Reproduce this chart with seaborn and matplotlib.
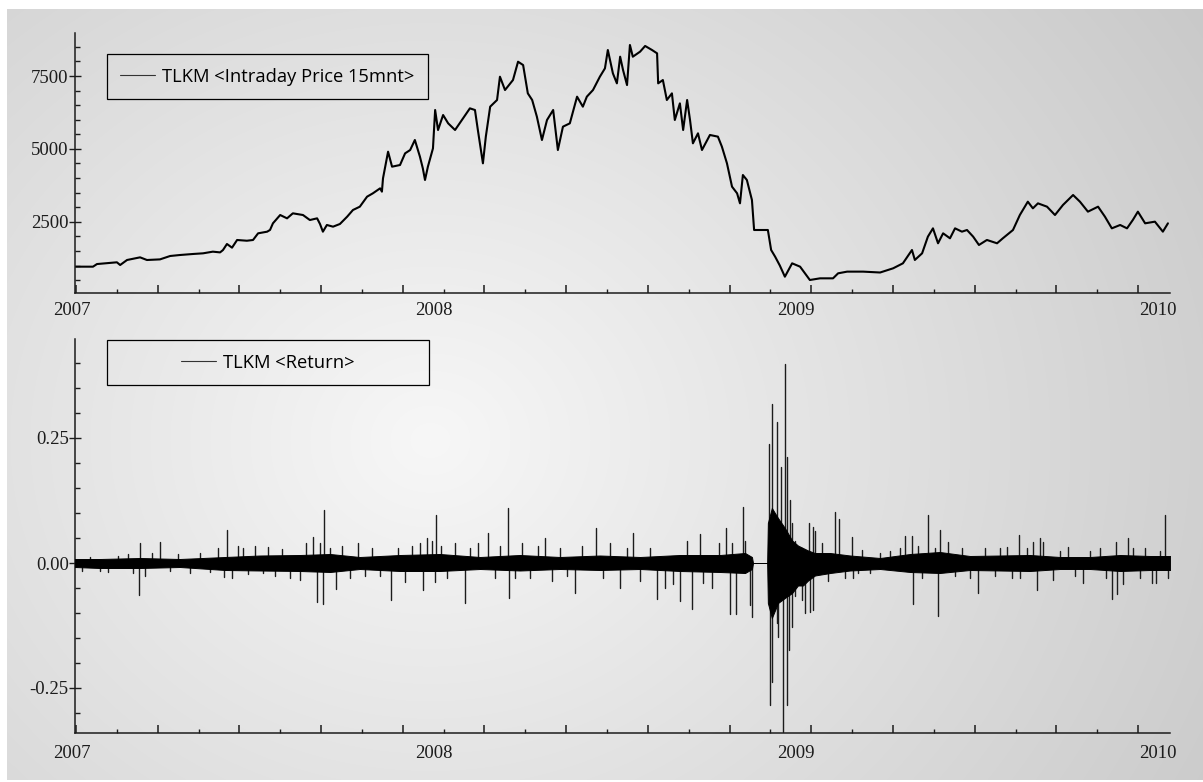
import numpy as np
import pandas as pd
import matplotlib
matplotlib.use("Agg")
import matplotlib.pyplot as plt
import matplotlib.transforms as mtransforms
from matplotlib.lines import Line2D
from matplotlib.patches import Rectangle
from matplotlib.ticker import FixedLocator, MultipleLocator, NullFormatter
import seaborn as sns

# --- data (time in decimal years) ---
price_t = [2007.008, 2007.058, 2007.069, 2007.124, 2007.133, 2007.152, 2007.188, 2007.207, 2007.243, 2007.271,
           2007.298, 2007.334, 2007.362, 2007.389, 2007.409, 2007.417, 2007.428, 2007.442, 2007.456, 2007.483,
           2007.500, 2007.514, 2007.539, 2007.547, 2007.555, 2007.575, 2007.594, 2007.610, 2007.638, 2007.657,
           2007.677, 2007.685, 2007.693, 2007.704, 2007.721, 2007.740, 2007.760, 2007.776, 2007.795, 2007.815,
           2007.831, 2007.851, 2007.856, 2007.859, 2007.873, 2007.884, 2007.906, 2007.920, 2007.934, 2007.947,
           2007.961, 2007.969, 2007.975, 2007.983, 2007.997, 2008.003, 2008.011, 2008.025, 2008.039, 2008.058,
           2008.077, 2008.099, 2008.113, 2008.121, 2008.135, 2008.143, 2008.155, 2008.174, 2008.182, 2008.196,
           2008.218, 2008.232, 2008.246, 2008.259, 2008.271, 2008.284, 2008.298, 2008.312, 2008.329, 2008.342,
           2008.356, 2008.375, 2008.395, 2008.411, 2008.422, 2008.439, 2008.458, 2008.472, 2008.480, 2008.494,
           2008.505, 2008.514, 2008.522, 2008.533, 2008.541, 2008.549, 2008.569, 2008.583, 2008.602, 2008.616,
           2008.619, 2008.632, 2008.643, 2008.657, 2008.665, 2008.679, 2008.688, 2008.699, 2008.707, 2008.715,
           2008.729, 2008.740, 2008.762, 2008.784, 2008.795, 2008.809, 2008.823, 2008.837, 2008.845, 2008.853,
           2008.864, 2008.878, 2008.884, 2008.922, 2008.931, 2008.942, 2008.955, 2008.969, 2008.989, 2009.011,
           2009.038, 2009.066, 2009.102, 2009.116, 2009.141, 2009.185, 2009.232, 2009.268, 2009.295, 2009.320,
           2009.328, 2009.348, 2009.364, 2009.378, 2009.392, 2009.406, 2009.425, 2009.439, 2009.458, 2009.472,
           2009.489, 2009.505, 2009.527, 2009.555, 2009.571, 2009.599, 2009.618, 2009.640, 2009.654, 2009.668,
           2009.693, 2009.715, 2009.737, 2009.765, 2009.784, 2009.806, 2009.834, 2009.853, 2009.872, 2009.895,
           2009.914, 2009.930, 2009.944, 2009.964, 2009.991, 2010.013, 2010.027]
price_v = [960, 960, 1050, 1110, 1017, 1189, 1280, 1189, 1210, 1326,
           1360, 1395, 1418, 1475, 1450, 1530, 1738, 1612, 1875, 1850,
           1875, 2104, 2160, 2220, 2447, 2732, 2618, 2790, 2732, 2560,
           2618, 2424, 2160, 2390, 2332, 2424, 2675, 2904, 3018, 3361,
           3476, 3647, 3533, 3990, 4904, 4390, 4447, 4847, 4961, 5305,
           4733, 4333, 3933, 4390, 5018, 6334, 5647, 6162, 5876, 5648,
           5990, 6391, 6334, 5648, 4505, 5420, 6448, 6677, 7476, 7019,
           7362, 7990, 7876, 6905, 6677, 6105, 5305, 5991, 6334, 4962,
           5762, 5876, 6791, 6448, 6791, 7019, 7476, 7762, 8392, 7590,
           7248, 8162, 7705, 7190, 8563, 8162, 8334, 8530, 8392, 8277,
           7248, 7362, 6677, 6905, 5991, 6562, 5648, 6677, 5991, 5191,
           5534, 4962, 5477, 5420, 5077, 4505, 3704, 3476, 3133, 4104,
           3933, 3247, 2218, 2218, 1533, 1304, 1000, 616, 1075, 960,
           503, 560, 560, 732, 790, 790, 760, 904, 1075, 1532,
           1190, 1418, 1990, 2275, 1762, 2104, 1933, 2275, 2161, 2218,
           1990, 1704, 1876, 1762, 1933, 2218, 2732, 3189, 2961, 3132,
           3018, 2732, 3075, 3418, 3189, 2847, 3018, 2675, 2275, 2390,
           2275, 2561, 2847, 2447, 2504, 2161, 2447]

# dense core of the return series (upper / lower edge)
band_t = [2007.008, 2007.077, 2007.188, 2007.298, 2007.423, 2007.519, 2007.630, 2007.713, 2007.795, 2007.906,
          2008.016, 2008.127, 2008.237, 2008.348, 2008.458, 2008.569, 2008.679, 2008.790, 2008.859, 2008.878,
          2008.881, 2008.920, 2008.922, 2008.933, 2008.950, 2008.969, 2008.989, 2009.005, 2009.019, 2009.033,
          2009.052, 2009.094, 2009.149, 2009.232, 2009.315, 2009.397, 2009.480, 2009.563, 2009.646, 2009.729,
          2009.812, 2009.895, 2009.978, 2010.033]
band_hi = [0.008, 0.008, 0.010, 0.008, 0.012, 0.015, 0.016, 0.018, 0.012, 0.016,
           0.018, 0.012, 0.016, 0.012, 0.015, 0.012, 0.016, 0.016, 0.020, 0.012,
           0.0, 0.0, 0.08, 0.11, 0.09, 0.07, 0.045, 0.035, 0.03, 0.025,
           0.02, 0.02, 0.015, 0.010, 0.018, 0.022, 0.014, 0.015, 0.016, 0.012,
           0.012, 0.016, 0.014, 0.014]
band_lo = [-0.008, -0.010, -0.010, -0.008, -0.014, -0.015, -0.016, -0.018, -0.012, -0.016,
           -0.016, -0.012, -0.015, -0.012, -0.014, -0.012, -0.016, -0.018, -0.020, -0.012,
           0.0, 0.0, -0.08, -0.11, -0.08, -0.07, -0.06, -0.045, -0.045, -0.035,
           -0.025, -0.02, -0.015, -0.012, -0.018, -0.020, -0.014, -0.015, -0.016, -0.012,
           -0.012, -0.016, -0.014, -0.014]

# single large returns
spike_t = [2007.028, 2007.050, 2007.077, 2007.099, 2007.127, 2007.155, 2007.168, 2007.185, 2007.188, 2007.202,
           2007.221, 2007.243, 2007.271, 2007.293, 2007.326, 2007.354, 2007.381, 2007.403, 2007.420, 2007.428,
           2007.442, 2007.458, 2007.472, 2007.486, 2007.505, 2007.528, 2007.541, 2007.561, 2007.580, 2007.602,
           2007.630, 2007.646, 2007.666, 2007.677, 2007.685, 2007.693, 2007.696, 2007.713, 2007.729, 2007.746,
           2007.768, 2007.790, 2007.809, 2007.829, 2007.851, 2007.881, 2007.900, 2007.920, 2007.939, 2007.961,
           2007.969, 2007.981, 2007.994, 2008.003, 2008.005, 2008.019, 2008.036, 2008.058, 2008.085, 2008.099,
           2008.121, 2008.149, 2008.168, 2008.182, 2008.204, 2008.207, 2008.224, 2008.243, 2008.265, 2008.287,
           2008.306, 2008.326, 2008.348, 2008.367, 2008.389, 2008.409, 2008.447, 2008.467, 2008.486, 2008.514,
           2008.533, 2008.549, 2008.569, 2008.596, 2008.616, 2008.638, 2008.660, 2008.679, 2008.699, 2008.712,
           2008.735, 2008.743, 2008.768, 2008.787, 2008.806, 2008.817, 2008.823, 2008.834, 2008.853, 2008.859,
           2008.873, 2008.878, 2008.925, 2008.927, 2008.933, 2008.934, 2008.946, 2008.947, 2008.951, 2008.958,
           2008.965, 2008.969, 2008.974, 2008.975, 2008.981, 2008.982, 2008.988, 2008.989, 2008.997, 2008.998,
           2009.015, 2009.016, 2009.025, 2009.036, 2009.037, 2009.046, 2009.047, 2009.052, 2009.071, 2009.088,
           2009.107, 2009.118, 2009.135, 2009.154, 2009.157, 2009.171, 2009.182, 2009.204, 2009.232, 2009.259,
           2009.287, 2009.301, 2009.320, 2009.323, 2009.337, 2009.348, 2009.364, 2009.384, 2009.392, 2009.397,
           2009.419, 2009.439, 2009.458, 2009.480, 2009.502, 2009.522, 2009.549, 2009.563, 2009.582, 2009.596,
           2009.616, 2009.618, 2009.638, 2009.654, 2009.665, 2009.674, 2009.682, 2009.710, 2009.729, 2009.751,
           2009.770, 2009.792, 2009.812, 2009.839, 2009.856, 2009.872, 2009.883, 2009.886, 2009.903, 2009.917,
           2009.930, 2009.950, 2009.964, 2009.983, 2009.994, 2010.005, 2010.019, 2010.027]
spike_r = [-0.015, 0.012, -0.016, -0.018, 0.014, 0.018, -0.020, -0.064, 0.040, -0.025,
           0.020, 0.043, -0.016, 0.018, -0.020, 0.020, -0.018, 0.030, -0.027, 0.066,
           -0.030, 0.035, 0.030, -0.022, 0.035, -0.020, 0.032, -0.025, 0.028, -0.030,
           -0.034, 0.040, 0.053, -0.077, 0.040, -0.081, 0.106, 0.030, -0.051, 0.035,
           -0.030, 0.040, -0.025, 0.030, -0.025, -0.074, 0.030, -0.037, 0.035, 0.040,
           -0.054, 0.050, 0.045, -0.037, 0.096, 0.035, -0.030, 0.040, -0.080, 0.030,
           0.040, 0.060, -0.030, 0.035, 0.110, -0.070, -0.030, 0.040, -0.030, 0.035,
           0.050, -0.035, 0.030, -0.025, -0.060, 0.035, 0.070, -0.030, 0.040, -0.050,
           0.030, 0.060, -0.035, 0.030, -0.071, -0.049, -0.041, -0.075, 0.045, -0.091,
           0.059, -0.040, -0.049, 0.040, 0.070, -0.101, 0.041, -0.101, 0.112, 0.045,
           -0.083, -0.108, 0.239, -0.284, 0.319, -0.237, 0.283, -0.120, -0.147, 0.193,
           -0.337, 0.399, -0.284, 0.213, -0.174, 0.126, 0.080, -0.128, 0.045, -0.065,
           0.030, -0.074, -0.100, 0.080, -0.097, -0.094, 0.073, 0.065, 0.040, -0.035,
           0.103, 0.089, -0.030, 0.052, -0.030, -0.020, 0.027, -0.020, 0.020, 0.025,
           0.030, 0.054, 0.054, -0.081, 0.035, -0.030, 0.096, 0.030, -0.105, 0.066,
           0.042, -0.025, 0.030, -0.030, -0.059, 0.030, -0.025, 0.030, 0.033, -0.030,
           0.056, -0.030, 0.030, 0.042, -0.054, 0.050, 0.042, -0.034, 0.025, 0.033,
           -0.025, -0.039, 0.025, 0.030, -0.030, -0.071, 0.042, -0.061, -0.041, 0.050,
           0.030, -0.030, 0.030, -0.039, -0.040, 0.025, 0.096, -0.030]

years = [2007, 2008, 2009, 2010]
price_label = "TLKM <Intraday Price 15mnt>"
return_label = "TLKM <Return>"

# --- style ---
sns.set_theme(style="white")
plt.rcParams["font.family"] = ["Liberation Serif", "DejaVu Serif"]
plt.rcParams["axes.unicode_minus"] = False
INK = "#1c1c1c"

W, H = 1203, 782
fig = plt.figure(figsize=(W / 100, H / 100), dpi=100)

# radial grey backdrop
yy, xx = np.mgrid[0:H, 0:W]
dist = np.hypot(xx - 430, (yy - 440) * 1.15)
shade = np.clip(247 - 0.05 * dist, 196, 247) / 255.0
bg = np.dstack([shade, shade, shade])
bg[:9, :, :] = 1.0
bg[:, :7, :] = 1.0
bg[780:, :, :] = 1.0
fig.figimage(bg, 0, 0, origin="upper", zorder=-10)

ax1 = fig.add_axes([75 / W, 1 - 293 / H, 1095 / W, 260 / H])
ax2 = fig.add_axes([75 / W, 1 - 733 / H, 1095 / W, 394 / H])

# price
sns.lineplot(x=price_t, y=price_v, ax=ax1, color="black", lw=1.5,
             estimator=None, sort=False, legend=False)

# returns: dense core + individual spikes
ax2.fill_between(band_t, band_lo, band_hi, color="black", lw=0.7, zorder=3)
n = len(spike_t)
spikes = pd.DataFrame({
    "t": np.repeat(spike_t, 2),
    "r": np.column_stack([np.zeros(n), spike_r]).ravel(),
    "id": np.repeat(np.arange(n), 2),
})
sns.lineplot(data=spikes, x="t", y="r", units="id", estimator=None,
             color=INK, lw=1.0, ax=ax2, legend=False)

# axes cosmetics
xmin, xmax = 2007.0083, 2010.0327
major_x = np.arange(2007.011, xmax, 0.22566)
minor_x = major_x + 0.11283
for ax in (ax1, ax2):
    ax.set_facecolor("none")
    ax.set_xlim(xmin, xmax)
    ax.set_xlabel("")
    ax.set_ylabel("")
    for s in ("top", "right"):
        ax.spines[s].set_visible(False)
    for s in ("left", "bottom"):
        ax.spines[s].set_color(INK)
        ax.spines[s].set_linewidth(1.1)
    ax.xaxis.set_major_locator(FixedLocator(major_x))
    ax.xaxis.set_minor_locator(FixedLocator(minor_x[minor_x < xmax]))
    ax.xaxis.set_major_formatter(NullFormatter())
    ax.tick_params(axis="x", which="major", direction="in", length=6, width=1.1,
                   color=INK, bottom=True)
    ax.tick_params(axis="x", which="minor", direction="in", length=3, width=1.0,
                   color=INK, bottom=True)
    ax.tick_params(axis="y", which="major", direction="inout", length=9, width=1.0,
                   color=INK, left=True, pad=0, labelsize=13.5, labelcolor=INK)
    ax.tick_params(axis="y", which="minor", direction="in", length=3.5, width=1.0,
                   color=INK, left=True)

ax1.set_ylim(57, 8975)
ax1.yaxis.set_major_locator(FixedLocator([2500, 5000, 7500]))
ax1.yaxis.set_minor_locator(MultipleLocator(500))
ax1.set_yticklabels(["2500", "5000", "7500"])

ax2.set_ylim(-0.34, 0.448)
ax2.yaxis.set_major_locator(FixedLocator([-0.25, 0.0, 0.25]))
ax2.yaxis.set_minor_locator(MultipleLocator(0.05))
ax2.set_yticklabels(["-0.25", "0.00", "0.25"])

# year labels under each panel
for ax, off in ((ax1, -0.033), (ax2, -0.030)):
    trans = mtransforms.blended_transform_factory(ax.transData, ax.transAxes)
    for yr in years:
        ax.text(yr, off, str(yr), transform=trans, ha="center", va="top",
                fontsize=13.5, color=INK, clip_on=False)

# legend boxes
def legend_box(ax, x0, y0, w, h, label):
    ax.add_patch(Rectangle((x0, y0), w, h, transform=ax.transAxes, fill=False,
                           ec="black", lw=0.9, zorder=5, clip_on=False))
    handle = Line2D([], [], color="#333333", lw=0.8)
    ax.legend([handle], [label], loc="center", bbox_to_anchor=(x0 + w / 2, y0 + h / 2),
              frameon=False, prop={"family": "Open Sans", "size": 13.2},
              handlelength=1.9, handletextpad=0.4, borderpad=0, borderaxespad=0,
              labelcolor="black")

legend_box(ax1, 0.0292, 0.746, 0.2932, 0.173, price_label)
legend_box(ax2, 0.0292, 0.8832, 0.2941, 0.1143, return_label)

fig.savefig("out.png", dpi=100)
